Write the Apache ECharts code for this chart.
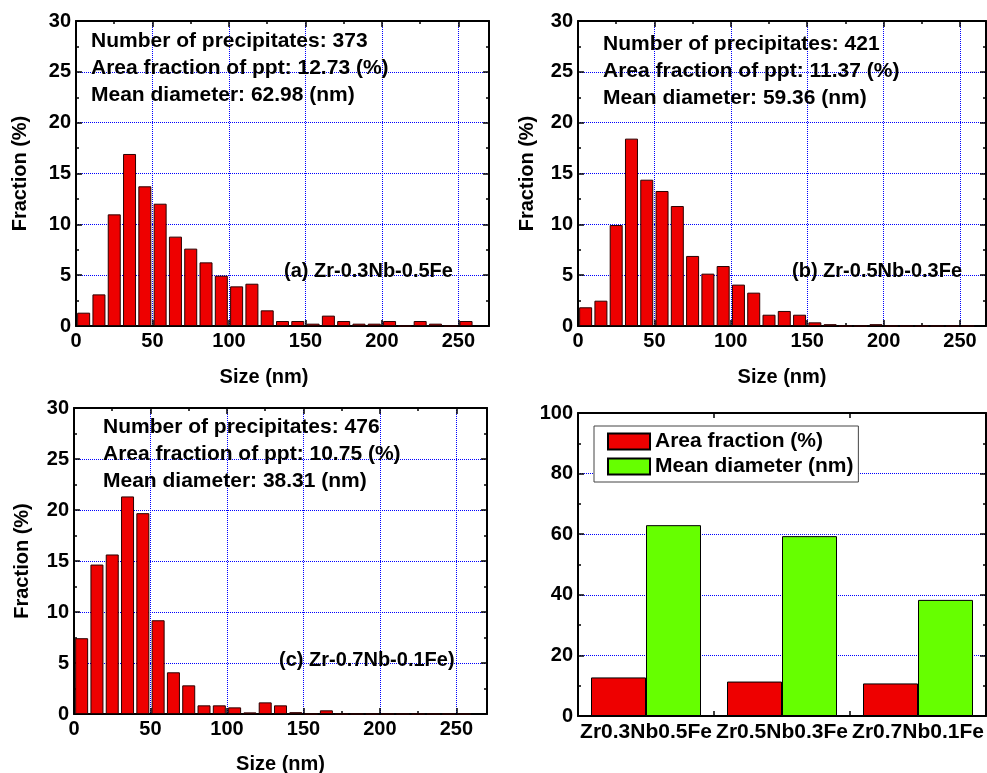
<!DOCTYPE html>
<html><head><meta charset="utf-8">
<script src="https://cdn.jsdelivr.net/npm/echarts/dist/echarts.min.js"></script>
<style>html,body{margin:0;padding:0;background:#fff}#c{width:987px;height:773px}</style>
</head><body><div id="c"></div>
<script>
// ---------- data ----------
const binCenters = [5,15,25,35,45,55,65,75,85,95,105,115,125,135,145,155,165,175,185,195,205,215,225,235,245,255];
const fractionA = [1.31,3.11,10.98,16.92,13.74,12.03,8.79,7.61,6.26,4.95,3.90,4.16,1.54,0.49,0.49,0.23,1.02,0.49,0.23,0.23,0.49,0,0.49,0.23,0,0.49];
const fractionB = [1.84,2.49,9.93,18.43,14.39,13.28,11.80,6.89,5.15,5.90,4.07,3.28,1.11,1.48,1.11,0.36,0.18,0,0,0.18,0,0,0,0,0,0];
const fractionC = [7.43,14.65,15.64,21.33,19.69,9.19,4.09,2.81,0.85,0.85,0.65,0.16,1.14,0.85,0.18,0,0.36,0,0,0,0,0,0,0,0,0];
const alloys = ['Zr0.3Nb0.5Fe','Zr0.5Nb0.3Fe','Zr0.7Nb0.1Fe'];
const areaFraction = [12.73, 11.37, 10.75];
const meanDiameter = [62.98, 59.36, 38.31];
const precipitateCounts = [373, 421, 476];
const panelLabels = ['(a) Zr-0.3Nb-0.5Fe', '(b) Zr-0.5Nb-0.3Fe', '(c) Zr-0.7Nb-0.1Fe)'];
const seriesNames = ['Area fraction (%)', 'Mean diameter (nm)'];

// ---------- style ----------
const FONT = 'Arial, "Liberation Sans", sans-serif';
const RED = '#EE0000', GREEN = '#66FF00', BLUE = '#0000FF';
const grids = [
  {left:76, top:21, width:413, height:305},
  {left:578, top:21, width:408, height:305},
  {left:74, top:408, width:413, height:306},
  {left:578, top:413, width:408, height:303}
];
const axisLine = {show:true, onZero:false, lineStyle:{color:'#000', width:2}};
const tick = {show:true, inside:true, length:6, lineStyle:{color:'#000', width:1.5}};
const minor = {show:true, splitNumber:2, length:3, lineStyle:{color:'#000', width:1.5}};
const lbl = {color:'#000', fontSize:20, fontWeight:'bold', fontFamily:FONT};
const split = {show:true, lineStyle:{color:BLUE, type:'dotted', width:1}};
const nameStyle = {color:'#000', fontSize:20, fontWeight:'bold', fontFamily:FONT};

function xVal(gi, max, top, padR, gap){
  return {type:'value', gridIndex:gi, position: top?'top':'bottom', min:0, max:max, interval:50,
    axisLine, axisTick:tick, minorTick:minor,
    axisLabel:Object.assign({show:!top, margin:5, showMaxLabel:false, hideOverlap:false}, lbl),
    splitLine: top?{show:false}:split, minorSplitLine:{show:false},
    name: top?'':'Size (nm)', nameLocation:'middle', nameGap:gap, nameMoveOverlap:false,
    nameTextStyle:Object.assign({padding:[0,padR,0,0]}, nameStyle)};
}
function yVal(gi, max, interval, right, name, gap){
  return {type:'value', gridIndex:gi, position: right?'right':'left', min:0, max:max, interval:interval,
    axisLine, axisTick:tick, minorTick:minor,
    axisLabel:Object.assign({show:!right, margin:5, hideOverlap:false}, lbl),
    splitLine: right?{show:false}:split, minorSplitLine:{show:false},
    name: right?'':name, nameLocation:'middle', nameGap:gap, nameRotate:90, nameMoveOverlap:false,
    nameTextStyle:nameStyle};
}
function catX(gi, top){
  return {type:'category', gridIndex:gi, position: top?'top':'bottom', data:alloys,
    axisLine, axisTick:{show:true, inside:true, length:5, lineStyle:{color:'#000', width:1.5}},
    axisLabel:Object.assign({show:!top, margin:6, interval:0, hideOverlap:false}, lbl, {fontSize:21}),
    splitLine:{show:false}};
}

const xAxis = [
  xVal(0, 270, false, 37, 41), xVal(0, 270, true, 0, 0),
  xVal(1, 267, false, 0, 41), xVal(1, 267, true, 0, 0),
  xVal(2, 270, false, 0, 40), xVal(2, 270, true, 0, 0),
  catX(3, false), catX(3, true)
];
const yAxis = [
  yVal(0, 30, 5, false, 'Fraction (%)', 46), yVal(0, 30, 5, true, '', 0),
  yVal(1, 30, 5, false, 'Fraction (%)', 41), yVal(1, 30, 5, true, '', 0),
  yVal(2, 30, 5, false, 'Fraction (%)', 42), yVal(2, 30, 5, true, '', 0),
  yVal(3, 100, 20, false, '', 0), yVal(3, 100, 20, true, '', 0)
];

function hist(idx, values){
  return {type:'bar', xAxisIndex:idx*2, yAxisIndex:idx*2, barWidth:13,
    data: binCenters.map((c,k)=>[c, values[k]]),
    itemStyle:{color:RED, borderColor:'#2a0000', borderWidth:1}, silent:true, animation:false};
}

const annPos = [
  {x:91, y:[41,68,95], lx:284, ly:271},
  {x:603, y:[44,71,98], lx:792, ly:271.5},
  {x:103, y:[427,454,481], lx:279, ly:660}
];
const graphic = [];
annPos.forEach((p,i)=>{
  const lines = ['Number of precipitates: ' + precipitateCounts[i],
                 'Area fraction of ppt: ' + areaFraction[i].toFixed(2) + ' (%)',
                 'Mean diameter: ' + meanDiameter[i].toFixed(2) + ' (nm)'];
  lines.forEach((t,j)=>graphic.push({type:'text', x:p.x, y:p.y[j], z:100,
    style:{text:t, fill:'#000', font:'bold 21px ' + FONT, textVerticalAlign:'middle', verticalAlign:'middle'}}));
  graphic.push({type:'text', x:p.lx, y:p.ly, z:100,
    style:{text:panelLabels[i], fill:'#000', font:'bold 20px ' + FONT, textVerticalAlign:'middle', verticalAlign:'middle'}});
});

const option = {
  backgroundColor:'#fff',
  animation:false,
  grid: grids.map(g=>Object.assign({containLabel:false, outerBoundsMode:'none'}, g)),
  xAxis, yAxis,
  legend:{show:true, orient:'vertical', left:594, top:426, data:seriesNames,
    icon:'rect', itemWidth:42, itemHeight:16, itemGap:4, itemTextGap:6,
    padding:[5,5,5,13], borderColor:'#444', borderWidth:1, backgroundColor:'#fff',
    textStyle:{color:'#000', fontSize:21, fontWeight:'bold', fontFamily:FONT, lineHeight:20}},
  graphic,
  series:[
    hist(0, fractionA), hist(1, fractionB), hist(2, fractionC),
    {type:'bar', name:seriesNames[0], xAxisIndex:6, yAxisIndex:6, data:areaFraction, barWidth:55, barGap:'0%',
     itemStyle:{color:RED, borderColor:'#000', borderWidth:1}},
    {type:'bar', name:seriesNames[1], xAxisIndex:6, yAxisIndex:6, data:meanDiameter, barWidth:55, barGap:'0%',
     itemStyle:{color:GREEN, borderColor:'#000', borderWidth:1}}
  ]
};
const chart = echarts.init(document.getElementById('c'), null, {renderer:'canvas'});
chart.setOption(option);
</script>
</body></html>
